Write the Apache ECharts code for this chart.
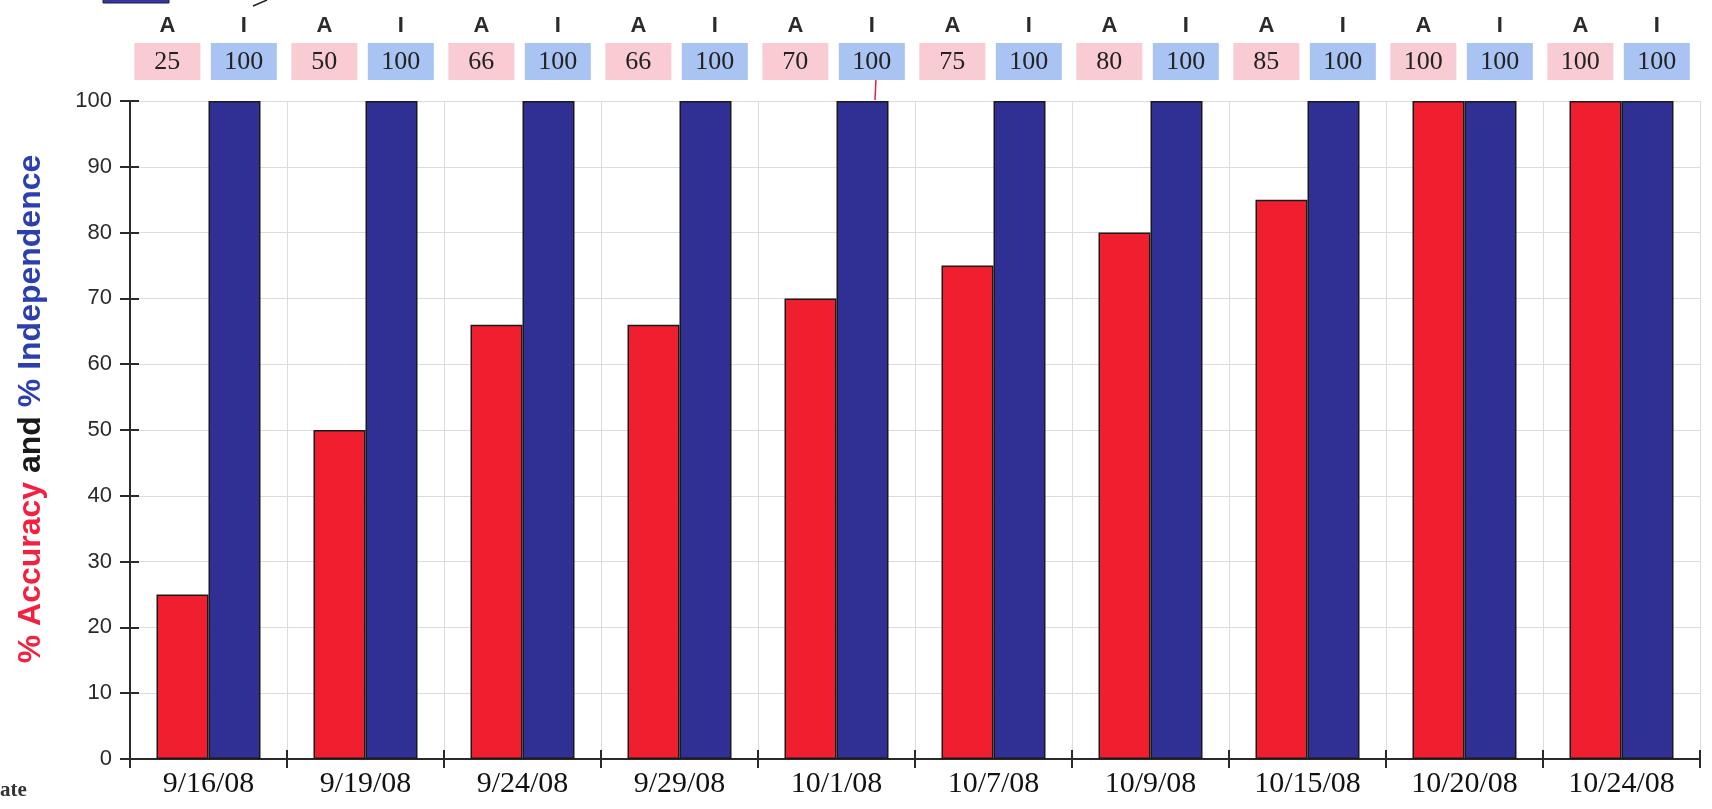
<!DOCTYPE html>
<html>
<head>
<meta charset="utf-8">
<script src="https://cdn.jsdelivr.net/npm/echarts@6/dist/echarts.min.js"></script>
<style>
html,body{margin:0;padding:0;background:#fff;}
#chart{width:1712px;height:809px;}
</style>
</head>
<body>
<div id="chart"></div>
<script>
const categories = ['9/16/08','9/19/08','9/24/08','9/29/08','10/1/08','10/7/08','10/9/08','10/15/08','10/20/08','10/24/08'];
const accuracy = [25, 50, 66, 66, 70, 75, 80, 85, 100, 100];
const independence = [100, 100, 100, 100, 100, 100, 100, 100, 100, 100];
const yTicks = [0, 10, 20, 30, 40, 50, 60, 70, 80, 90, 100];

const headerData = categories.map((c, i) => [i, accuracy[i], independence[i]]);

const chart = echarts.init(document.getElementById('chart'));
const option = {
  animation: false,
  backgroundColor: '#ffffff',
  grid: { left: 130, right: 12, top: 101, bottom: 50, containLabel: false },
  xAxis: [
    {
      type: 'category', data: categories, position: 'bottom',
      axisLine: { show: true, lineStyle: { color: '#2a2a2a', width: 2 } },
      axisTick: { show: true, length: 9, lineStyle: { color: '#2a2a2a', width: 2 } },
      axisLabel: { color: '#111', fontFamily: 'Liberation Serif', fontSize: 30, margin: 10 },
      splitLine: { show: true, lineStyle: { color: '#dcdcdc', width: 1 } }
    },
    {
      type: 'category', data: categories, position: 'bottom', gridIndex: 0,
      axisLine: { show: false },
      axisTick: { show: true, inside: true, length: 9, lineStyle: { color: '#2a2a2a', width: 2 } },
      axisLabel: { show: false }, splitLine: { show: false }
    }
  ],
  yAxis: [
    {
      type: 'value', min: 0, max: 100, interval: 10,
      axisLine: { show: true, lineStyle: { color: '#2a2a2a', width: 2 } },
      axisTick: { show: true, length: 10, lineStyle: { color: '#2a2a2a', width: 2 } },
      axisLabel: {
        color: '#2a2a2a', fontFamily: 'Liberation Sans', fontSize: 22, margin: 18,
        formatter: v => (yTicks.indexOf(v) >= 0 ? String(v) : '')
      },
      splitLine: { show: true, lineStyle: { color: '#dcdcdc', width: 1 } }
    },
    {
      type: 'value', min: 0, max: 100, interval: 10, position: 'left',
      axisLine: { show: false },
      axisTick: { show: true, inside: true, length: 9, lineStyle: { color: '#2a2a2a', width: 2 } },
      axisLabel: { show: false }, splitLine: { show: false }
    }
  ],
  series: [
    {
      name: 'Accuracy', type: 'bar', data: accuracy, barWidth: 52, barGap: '0%',
      itemStyle: { color: '#ef1f2f', borderColor: '#1a1a1a', borderWidth: 1.5 }
    },
    {
      name: 'Independence', type: 'bar', data: independence, barWidth: 52, barGap: '0%',
      itemStyle: { color: '#2f2f94', borderColor: '#1a1a1a', borderWidth: 1.5 }
    },
    {
      name: 'header', type: 'custom', data: headerData, clip: false, silent: true,
      encode: { x: 0, y: 1 },
      renderItem: function (params, api) {
        const cx = api.coord([api.value(0), 0])[0];
        const bw = api.size([1, 0])[0];
        const pinkX = cx - 0.262 * bw;
        const blueX = cx + 0.225 * bw;
        const w = 66, h = 37, top = 43;
        return {
          type: 'group',
          children: [
            { type: 'rect', shape: { x: pinkX - w / 2, y: top, width: w, height: h }, style: { fill: '#f9cbd3' } },
            { type: 'rect', shape: { x: blueX - w / 2, y: top, width: w, height: h }, style: { fill: '#a9c3f2' } },
            { type: 'text', style: { text: String(api.value(1)), x: pinkX, y: top + h / 2 + 1, align: 'center', verticalAlign: 'middle', font: '26px "Liberation Serif"', fill: '#222' } },
            { type: 'text', style: { text: String(api.value(2)), x: blueX, y: top + h / 2 + 1, align: 'center', verticalAlign: 'middle', font: '26px "Liberation Serif"', fill: '#222' } },
            { type: 'text', style: { text: 'A', x: pinkX, y: 26, align: 'center', verticalAlign: 'middle', font: 'bold 22px "Liberation Sans"', fill: '#2a2a2a' } },
            { type: 'text', style: { text: 'I', x: blueX, y: 26, align: 'center', verticalAlign: 'middle', font: 'bold 22px "Liberation Sans"', fill: '#2a2a2a' } }
          ]
        };
      }
    }
  ],
  graphic: [
    {
      type: 'text', x: 31, y: 409, rotation: Math.PI / 2,
      style: {
        text: '{r|% Accuracy} {k|and} {b|% Independence}',
        align: 'center', verticalAlign: 'middle',
        rich: {
          r: { fill: '#f5203f', font: 'bold 32px "Liberation Sans"' },
          k: { fill: '#1a1a1a', font: 'bold 32px "Liberation Sans"' },
          b: { fill: '#2b3fae', font: 'bold 32px "Liberation Sans"' }
        },
        font: 'bold 32px "Liberation Sans"'
      }
    },
    { type: 'text', left: 0, top: 780, style: { text: 'ate', font: 'bold 21px "Liberation Serif"', fill: '#333' } },
    { type: 'rect', shape: { x: 103, y: -4, width: 66, height: 7 }, style: { fill: '#3535a8', stroke: '#222', lineWidth: 1 } },
    { type: 'line', shape: { x1: 253, y1: 6, x2: 267, y2: 0 }, style: { stroke: '#222', lineWidth: 1.5 } },
    { type: 'line', shape: { x1: 876, y1: 78, x2: 875, y2: 100 }, style: { stroke: '#e02040', lineWidth: 1.5 } }
  ]
};
chart.setOption(option);
</script>
</body>
</html>
